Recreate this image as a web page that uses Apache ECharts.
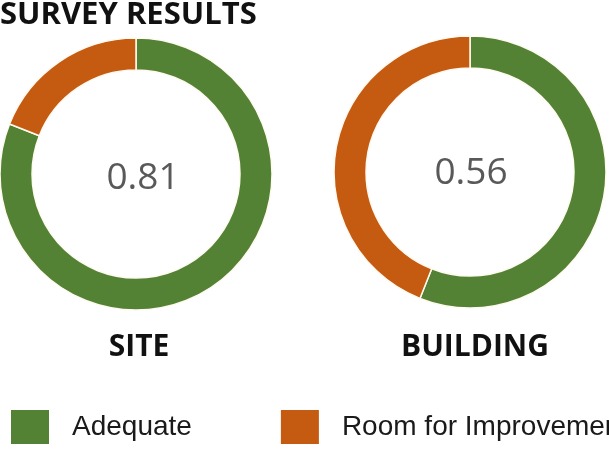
<!DOCTYPE html>
<html>
<head>
<meta charset="utf-8">
<script src="https://cdn.jsdelivr.net/npm/echarts@6/dist/echarts.min.js"></script>
<style>html,body{margin:0;padding:0;background:#fff;}#c{width:609px;height:449px;}</style>
</head>
<body>
<div id="c"></div>
<script>
const chartTitle = "SURVEY RESULTS";
const categories = ["Adequate", "Room for Improvement"];
const groupNames = ["SITE", "BUILDING"];
const siteValues = [0.81, 0.19];
const buildingValues = [0.56, 0.44];
const colors = ["#548235", "#C55A11"];

const chart = echarts.init(document.getElementById('c'), null, {renderer: 'canvas'});

function pieSeries(name, values, center, labelOffset) {
  return {
    type: 'pie',
    name: name,
    center: center,
    radius: [104, 136],
    startAngle: 90,
    clockwise: true,
    silent: true,
    avoidLabelOverlap: false,
    itemStyle: {borderColor: '#fffaf0', borderWidth: 1.5},
    label: {show: false},
    labelLine: {show: false},
    emphasis: {disabled: true},
    data: values.map((v, i) => ({
      name: categories[i],
      value: v,
      itemStyle: {color: colors[i]},
      label: i === 0 ? {
        show: true, position: 'center', formatter: '{c}',
        fontFamily: 'Open Sans', fontSize: 37, color: '#595959',
        offset: labelOffset
      } : {show: false}
    }))
  };
}

const boldText = {fontFamily: 'Open Sans', fontWeight: 'bold', fontSize: 30, color: '#111'};

chart.setOption({
  animation: false,
  backgroundColor: '#fff',
  title: [
    {text: chartTitle, left: 0, top: 0, padding: 0, textStyle: Object.assign({}, boldText, {fontSize: 31})},
    {text: groupNames[0], left: 139, top: 332, textAlign: 'center', padding: 0, textStyle: boldText},
    {text: groupNames[1], left: 475, top: 332, textAlign: 'center', padding: 0, textStyle: boldText}
  ],
  legend: {
    data: categories,
    left: 11,
    top: 410,
    width: 1500,
    padding: 0,
    icon: 'rect',
    itemWidth: 38,
    itemHeight: 34,
    itemGap: 89,
    selectedMode: false,
    itemStyle: {borderWidth: 0},
    textStyle: {fontFamily: 'Liberation Sans', fontSize: 28, color: '#1a1a1a', padding: [0, 0, 0, 18]}
  },
  series: [
    pieSeries(groupNames[0], siteValues, [136, 174], [7, 4]),
    pieSeries(groupNames[1], buildingValues, [470, 172], [1, 1])
  ]
});
</script>
</body>
</html>
